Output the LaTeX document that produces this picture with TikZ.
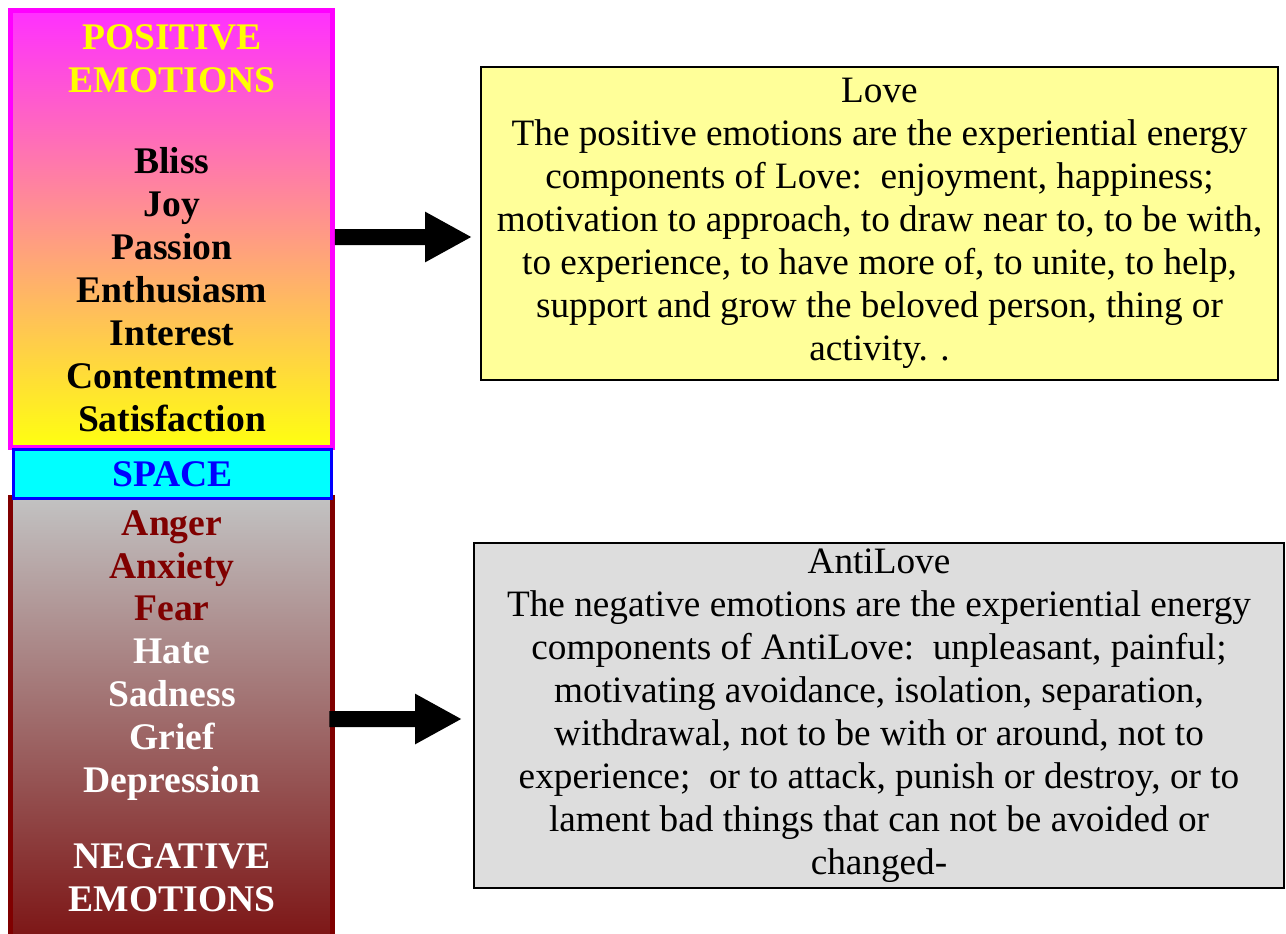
\documentclass[tikz,border=0pt]{standalone}
\usepackage{fontspec}
\setmainfont{Liberation Serif}
\usetikzlibrary{arrows.meta}
\definecolor{maroonline}{HTML}{800000}
\definecolor{lovefill}{HTML}{FFFF99}
\definecolor{antifill}{HTML}{DDDDDD}
\definecolor{magline}{HTML}{FF00FF}
\definecolor{postop}{HTML}{FF30FF}
\definecolor{posmid}{HTML}{FFB0C0}
\definecolor{posbottom}{HTML}{FFFF10}
\definecolor{spacefill}{HTML}{00FFFF}
\definecolor{spaceline}{HTML}{0000FF}
\definecolor{titleyellow}{HTML}{FFFF00}
\definecolor{negtop}{HTML}{C2C2C2}
\definecolor{negmid}{HTML}{A08585}
\definecolor{negbottom}{HTML}{7C1414}
\tikzset{
  colfont/.style={font=\fontsize{21.4}{24.45}\selectfont\bfseries, align=center},
  boxfont/.style={font=\fontsize{21.2}{24.45}\selectfont, align=center},
  colbar/.style={line width=0.1cm, minimum width=6.44cm, inner sep=0pt},
  textbox/.style={draw, line width=0.04cm, boxfont, inner sep=0pt},
  fatarrow/.style={line width=0.32cm, -{Triangle[length=0.94cm,width=0.94cm]}},
}
\begin{document}
\begin{tikzpicture}[x=0.02cm, y=-0.02cm]
  \useasboundingbox (0,0) rectangle (1286,934);
  % the emotion column
  \node[colbar, draw=magline, top color=postop, middle color=posmid, bottom color=posbottom, minimum height=8.74cm] (pos) at (171.5,229) {};
  \node[colbar, draw=maroonline, top color=negtop, middle color=negmid, bottom color=negbottom, minimum height=8.9cm] (neg) at (171.5,720) {};
  \node[draw=spaceline, fill=spacefill, line width=0.06cm, minimum width=6.36cm, minimum height=0.98cm, inner sep=0pt,
        colfont, text=spaceline] (space) at (172.5,474) {SPACE};
  \node[colfont, text=titleyellow] (postitle) at (172,58.5) {POSITIVE\\EMOTIONS};
  \node[colfont] (poslist) at (172,289.5) {Bliss\\Joy\\Passion\\Enthusiasm\\Interest\\Contentment\\Satisfaction};
  \node[colfont, text=white] (neglist) at (172,655.5) {\textcolor{maroonline}{Anger}\\\textcolor{maroonline}{Anxiety}\\\textcolor{maroonline}{Fear}\\Hate\\Sadness\\Grief\\Depression};
  \node[colfont, text=white] (negtitle) at (172,877.5) {NEGATIVE\\EMOTIONS};
  % explanation boxes
  \node[textbox, fill=lovefill, minimum width=15.94cm, minimum height=6.26cm] (love) at (879.5,223.5)
    {Love\\The positive emotions are the experiential energy\\components of Love:\ \ enjoyment, happiness;\\motivation to approach, to draw near to, to be with,\\to experience, to have more of, to unite, to help,\\support and grow the beloved person, thing or\\activity. .};
  \node[textbox, fill=antifill, minimum width=16.2cm, minimum height=6.9cm] (antilove) at (879,715.5)
    {AntiLove\\The negative emotions are the experiential energy\\components of AntiLove:\ \ unpleasant, painful;\\motivating avoidance, isolation, separation,\\withdrawal, not to be with or around, not to\\experience;\ \ or to attack, punish or destroy, or to\\lament bad things that can not be avoided or\\changed-};
  % arrows
  \draw[fatarrow, shorten >=0.16cm] ([yshift=-0.16cm]pos.east) -- ([yshift=-0.27cm]love.west);
  \draw[fatarrow, shorten >=0.22cm] ([xshift=-0.11cm,yshift=0.02cm]neg.east) -- ([yshift=-0.07cm]antilove.west);
\end{tikzpicture}
\end{document}
